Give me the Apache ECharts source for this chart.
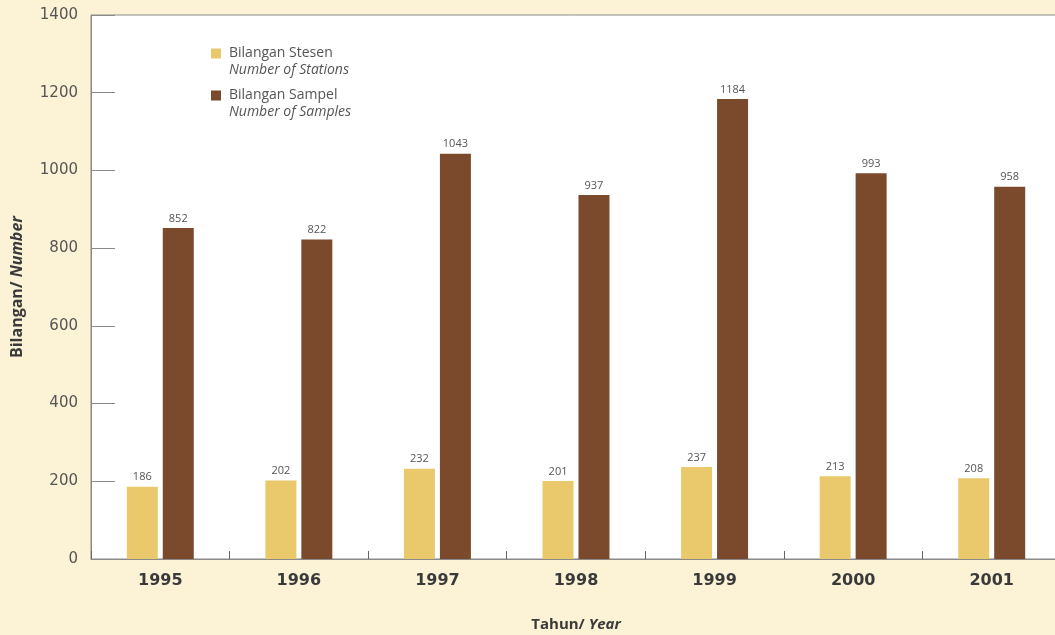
<!DOCTYPE html>
<html>
<head>
<meta charset="utf-8">
<script src="https://cdn.jsdelivr.net/npm/echarts@6/dist/echarts.min.js"></script>
<style>
html,body{margin:0;padding:0;background:#fcf2d6;}
#chart{width:1055px;height:635px;}
</style>
</head>
<body>
<div id="chart"></div>
<script>
const years = ['1995','1996','1997','1998','1999','2000','2001'];
const stations = [186, 202, 232, 201, 237, 213, 208];
const samples = [852, 822, 1043, 937, 1184, 993, 958];
const yTicks = [0, 200, 400, 600, 800, 1000, 1200, 1400];

const FONT = '"Open Sans", "DejaVu Sans", sans-serif';
const NUMFONT = '"DejaVu Sans", sans-serif';
const chart = echarts.init(document.getElementById('chart'));
const iconPath = 'path://M0,0L10,0L10,10L0,10Z M0,26L0.01,26L0.01,26.01Z';
chart.setOption({
  backgroundColor: '#fcf2d6',
  animation: false,
  textStyle: { fontFamily: FONT },
  grid: {
    left: 91, top: 15, width: 970, height: 544,
    containLabel: false, outerBoundsMode: 'none',
    show: true, backgroundColor: '#ffffff', borderColor: '#8a8a8a', borderWidth: 1
  },
  legend: {
    orient: 'vertical', left: 206, top: 41, itemGap: 11,
    itemWidth: 10, itemHeight: 26,
    data: [
      { name: 'stations', icon: iconPath },
      { name: 'samples', icon: iconPath }
    ],
    formatter: function (n) {
      return n === 'stations'
        ? '{a|Bilangan Stesen}\n{b|Number of Stations}'
        : '{a|Bilangan Sampel}\n{b|Number of Samples}';
    },
    textStyle: {
      rich: {
        a: { fontSize: 14, color: '#555', fontFamily: FONT, lineHeight: 17, padding: [0, 0, 0, 3] },
        b: { fontSize: 14, color: '#555', fontStyle: 'italic', fontFamily: FONT, lineHeight: 17, padding: [0, 0, 0, 3] }
      }
    }
  },
  xAxis: {
    type: 'category', data: years,
    axisLine: { lineStyle: { color: '#8a8a8a', width: 1 } },
    axisTick: { show: true, alignWithLabel: false, inside: true, length: 8, lineStyle: { color: '#666', width: 1 } },
    axisLabel: { fontSize: 16, fontWeight: 'bold', color: '#3a3a3a', margin: 14, fontFamily: NUMFONT },
    name: '{a|Tahun/ }{b|Year}', nameLocation: 'middle', nameGap: 58,
    nameTextStyle: {
      rich: {
        a: { fontSize: 15, fontWeight: 'bold', color: '#3a3a3a', fontFamily: FONT },
        b: { fontSize: 15, fontWeight: 'bold', fontStyle: 'italic', color: '#3a3a3a', fontFamily: FONT }
      }
    }
  },
  yAxis: {
    type: 'value', min: 0, max: 1400, interval: 200,
    axisLine: { show: true, lineStyle: { color: '#8a8a8a', width: 1 } },
    axisTick: { show: true, inside: true, length: 24, lineStyle: { color: '#8a8a8a' } },
    splitLine: { show: false },
    axisLabel: { fontSize: 15, color: '#555', margin: 13, fontFamily: NUMFONT, formatter: function (v) { return String(v); } },
    name: '{a|Bilangan/ }{b|Number}', nameLocation: 'middle', nameGap: 66, nameRotate: 90,
    nameTextStyle: {
      rich: {
        a: { fontSize: 16, fontWeight: 'bold', color: '#3a3a3a', fontFamily: FONT },
        b: { fontSize: 16, fontWeight: 'bold', fontStyle: 'italic', color: '#3a3a3a', fontFamily: FONT }
      }
    }
  },
  series: [
    {
      name: 'stations', type: 'bar', data: stations,
      barWidth: 31, barGap: '16%',
      itemStyle: { color: '#e9c96c' },
      label: { show: true, position: 'top', distance: 4, fontSize: 11, color: '#555', fontFamily: FONT }
    },
    {
      name: 'samples', type: 'bar', data: samples,
      barWidth: 31,
      itemStyle: { color: '#7b4a2d' },
      label: { show: true, position: 'top', distance: 4, fontSize: 11, color: '#555', fontFamily: FONT }
    }
  ]
});
</script>
</body>
</html>
